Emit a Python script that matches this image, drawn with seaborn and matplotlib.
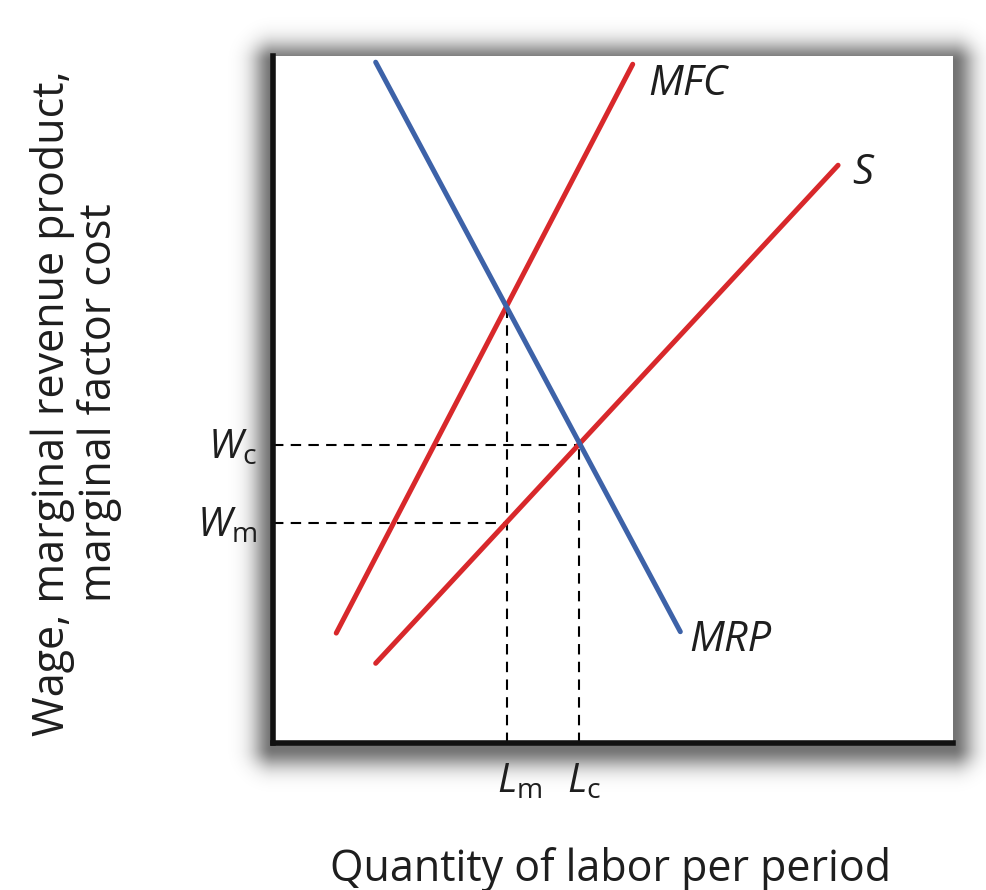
import numpy as np
import pandas as pd
import matplotlib
matplotlib.use('Agg')
import matplotlib.pyplot as plt
import seaborn as sns

# curve end points (data units)
mrp_x = [1.51, 5.99]
mrp_y = [9.91, 1.62]
mfc_x = [0.93, 5.29]
mfc_y = [1.60, 9.88]
s_x = [1.51, 8.31]
s_y = [1.16, 8.41]

# equilibrium points
L_m, L_c = 3.44, 4.50
W_m, W_c = 3.20, 4.34
W_mfc = 6.35  # height of MFC/MRP crossing at L_m

x_ticks = [L_m, L_c]
x_labels = [r'$\mathit{L}_{\mathrm{m}}$', r'$\mathit{L}_{\mathrm{c}}$']
y_ticks = [W_m, W_c]
y_labels = [r'$\mathit{W}_{\mathrm{m}}$', r'$\mathit{W}_{\mathrm{c}}$']

sns.set_style('white')
plt.rcParams['font.family'] = ['Open Sans', 'DejaVu Sans']
plt.rcParams['mathtext.fontset'] = 'custom'
plt.rcParams['mathtext.rm'] = 'Open Sans'
plt.rcParams['mathtext.it'] = 'Open Sans:italic'

red = '#d8282b'
blue = '#3d62a8'
ink = '#1e1e1e'

fig = plt.figure(figsize=(9.86, 8.9), dpi=100)

# soft drop shadow around the plot box
W, H = 986, 890
bx0, bx1, by0, by1 = 273, 953, 56, 743
xx, yy = np.meshgrid(np.arange(W), np.arange(H))
dx = np.maximum(np.maximum(bx0 - xx, xx - bx1), 0)
dy = np.maximum(np.maximum(by0 - yy + 6, yy - by1 - 4), 0)
d = np.hypot(dx, dy)
shade = 1 - 0.55 * np.exp(-(d / 20.0) ** 2)
bg = fig.add_axes([0, 0, 1, 1], zorder=0)
bg.imshow(shade, cmap='gray', vmin=0, vmax=1, aspect='auto', interpolation='bilinear')
bg.axis('off')

ax = fig.add_axes([bx0 / W, 1 - by1 / H, (bx1 - bx0) / W, (by1 - by0) / H], zorder=1)
ax.set_xlim(0, 10)
ax.set_ylim(0, 10)

df_mrp = pd.DataFrame({'x': mrp_x, 'y': mrp_y})
df_mfc = pd.DataFrame({'x': mfc_x, 'y': mfc_y})
df_s = pd.DataFrame({'x': s_x, 'y': s_y})
sns.lineplot(data=df_mfc, x='x', y='y', color=red, lw=3.6, ax=ax, sort=False)
sns.lineplot(data=df_s, x='x', y='y', color=red, lw=3.6, ax=ax, sort=False)
sns.lineplot(data=df_mrp, x='x', y='y', color=blue, lw=3.6, ax=ax, sort=False)

dash = dict(color='black', lw=1.5, ls=(0, (5, 3.5)), zorder=1)
ax.plot([0, L_c], [W_c, W_c], **dash)
ax.plot([L_c, L_c], [0, W_c], **dash)
ax.plot([0, L_m], [W_m, W_m], **dash)
ax.plot([L_m, L_m], [0, W_mfc], **dash)

# curve names next to the line ends
lab = dict(fontsize=30, style='italic', color=ink, textcoords='offset pixels',
           ha='left', va='center')
ax.annotate('MFC', (mfc_x[1], mfc_y[1]), xytext=(16, -20), **lab)
ax.annotate('S', (s_x[1], s_y[1]), xytext=(14, -8), **lab)
ax.annotate('MRP', (mrp_x[1], mrp_y[1]), xytext=(9, -8), **lab)

# axis value labels
ax.set_xticks(x_ticks)
ax.set_yticks(y_ticks)
ax.set_xticklabels([])
ax.set_yticklabels([])
ax.tick_params(length=0)
for y, t in zip(y_ticks, y_labels):
    ax.annotate(t, (0, y), xycoords=('axes fraction', 'data'), xytext=(-16, -3),
                textcoords='offset pixels', ha='right', va='center', fontsize=29, color=ink)
for x, t, off in zip(x_ticks, x_labels, [-10, -12]):
    ax.annotate(t, (x, 0), xycoords=('data', 'axes fraction'), xytext=(off, -19),
                textcoords='offset pixels', ha='left', va='top', fontsize=29, color=ink)

ax.set_xlabel('Quantity of labor per period', fontsize=31, color=ink)
ax.xaxis.set_label_coords(0.496, -0.151)
ax.set_ylabel('Wage, marginal revenue product,\nmarginal factor cost', fontsize=31,
              color=ink, linespacing=1.05)
ax.yaxis.set_label_coords(-0.222, 0.495)

for side in ['top', 'right']:
    ax.spines[side].set_visible(False)
for side in ['left', 'bottom']:
    ax.spines[side].set_color('#111111')
    ax.spines[side].set_linewidth(4)

fig.savefig('out.png', dpi=100)
